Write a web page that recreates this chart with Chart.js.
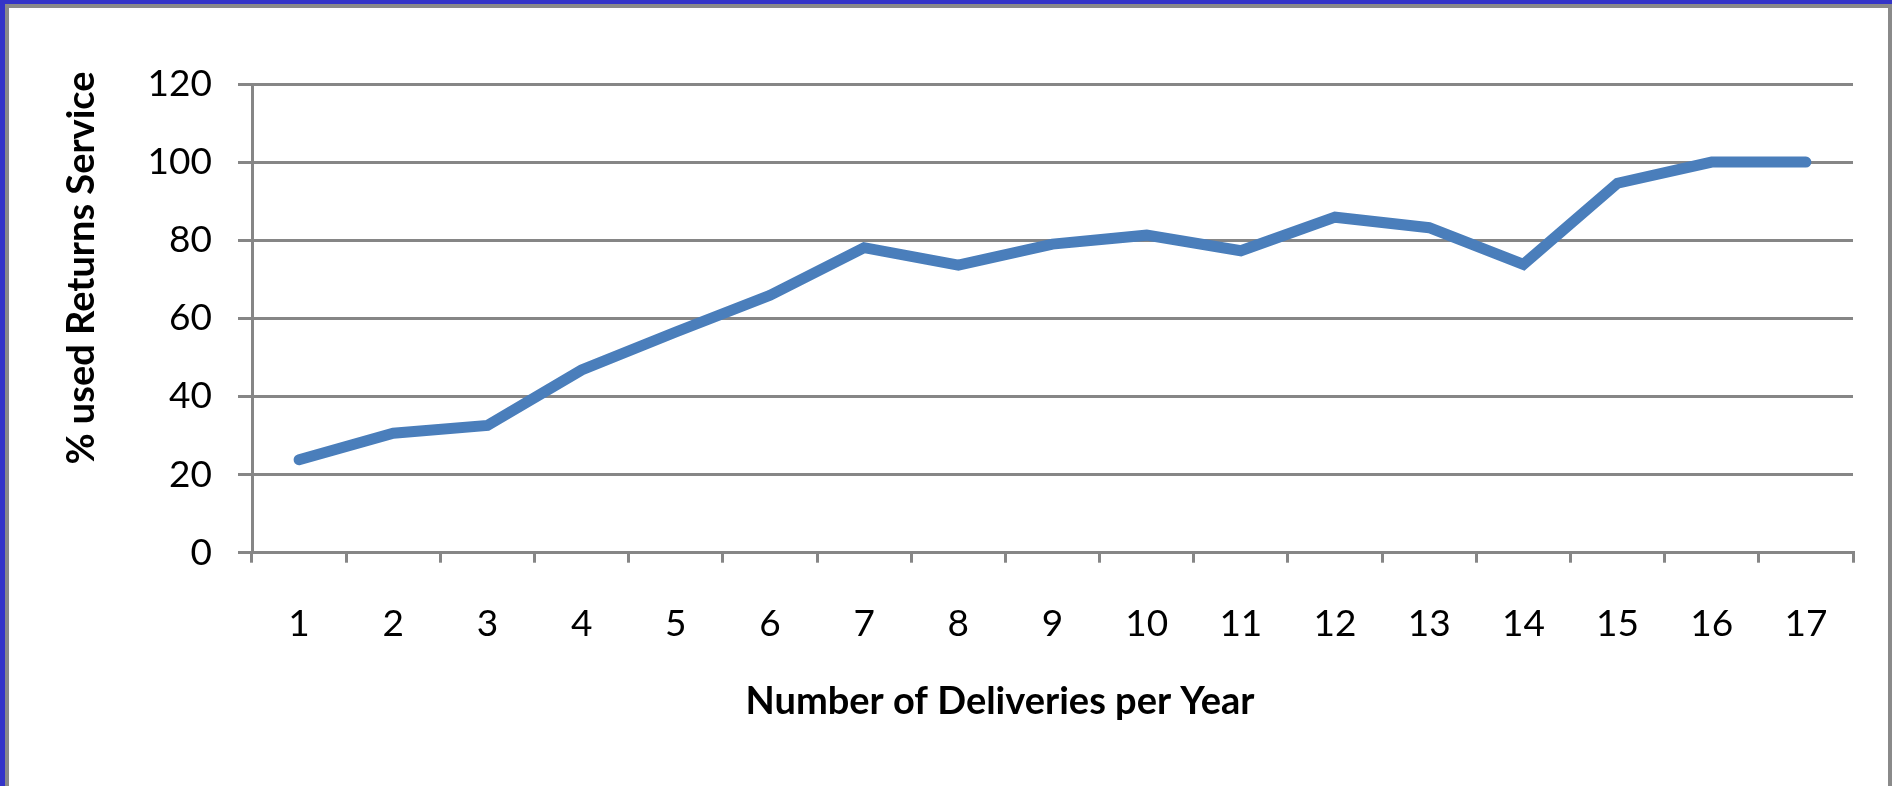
<!DOCTYPE html>
<html>
<head>
<meta charset="utf-8">
<script src="https://cdn.jsdelivr.net/npm/chart.js@4.4.1/dist/chart.umd.min.js"></script>
<style>
  html, body { margin: 0; padding: 0; background: #ffffff; }
  #wrap { position: relative; width: 1892px; height: 786px; }
  canvas { display: block; }
</style>
</head>
<body>
<div id="wrap"><canvas id="c" width="1892" height="786"></canvas></div>
<script>
const categories = ['1','2','3','4','5','6','7','8','9','10','11','12','13','14','15','16','17'];
const returnsPct = [23.8, 30.6, 32.6, 46.8, 56.5, 65.9, 78.1, 73.6, 79.0, 81.3, 77.3, 85.9, 83.2, 73.8, 94.6, 100, 100];
const yTicks = [0, 20, 40, 60, 80, 100, 120];
const xTitle = 'Number of Deliveries per Year';
const yTitle = '% used Returns Service';

const GRID = '#868686';
const FONT = 'Lato, "Open Sans", sans-serif';

const framePlugin = {
  id: 'frame',
  beforeDraw(chart) {
    const ctx = chart.ctx;
    const W = chart.width, H = chart.height;
    ctx.save();
    ctx.fillStyle = '#ffffff';
    ctx.fillRect(0, 0, W, H);
    ctx.fillStyle = '#3434c8';
    ctx.fillRect(0, 0, W, 4);
    ctx.fillRect(0, 0, 5, H);
    ctx.fillStyle = '#8a8a8a';
    ctx.fillRect(5, 4, W - 5, 4);
    ctx.fillRect(5, 4, 4, H - 4);
    ctx.fillRect(W - 4, 4, 4, H - 4);
    ctx.restore();
  },
  afterDraw(chart) {
    const ctx = chart.ctx;
    ctx.save();
    ctx.fillStyle = '#000000';
    ctx.font = 'bold 38px ' + FONT;
    ctx.textAlign = 'center';
    ctx.textBaseline = 'middle';
    ctx.fillText(xTitle, 1000, 702);
    ctx.translate(82, 268);
    ctx.rotate(-Math.PI / 2);
    ctx.fillText(yTitle, 0, 0);
    ctx.restore();
  }
};

new Chart(document.getElementById('c'), {
  type: 'line',
  data: {
    labels: categories,
    datasets: [{
      data: returnsPct,
      borderColor: '#4a7ebb',
      backgroundColor: '#4a7ebb',
      borderWidth: 11,
      borderCapStyle: 'round',
      borderJoinStyle: 'miter',
      pointRadius: 0,
      tension: 0,
      fill: false
    }]
  },
  options: {
    responsive: false,
    animation: false,
    devicePixelRatio: 1,
    layout: { padding: { left: 10, right: 39, top: 84, bottom: 10 } },
    plugins: { legend: { display: false }, tooltip: { enabled: false } },
    scales: {
      x: {
        type: 'category',
        offset: true,
        grid: {
          offset: true,
          drawOnChartArea: false,
          drawTicks: true,
          tickLength: 10,
          color: GRID,
          lineWidth: 3
        },
        border: { display: true, color: GRID, width: 3 },
        ticks: {
          color: '#000000',
          font: { family: FONT, size: 37 },
          padding: 39,
          maxRotation: 0,
          autoSkip: false
        },
        afterFit(scale) { scale.height = 786 - 10 - 552.7; }
      },
      y: {
        min: 0,
        max: 120,
        afterBuildTicks(scale) { scale.ticks = yTicks.map(v => ({ value: v })); },
        grid: {
          drawTicks: true,
          tickLength: 14,
          color: GRID,
          lineWidth: 3
        },
        border: { display: true, color: GRID, width: 3 },
        ticks: {
          color: '#000000',
          font: { family: FONT, size: 37 },
          padding: 26
        },
        afterFit(scale) { scale.width = 252 - 10; }
      }
    }
  },
  plugins: [framePlugin]
});
</script>
</body>
</html>
